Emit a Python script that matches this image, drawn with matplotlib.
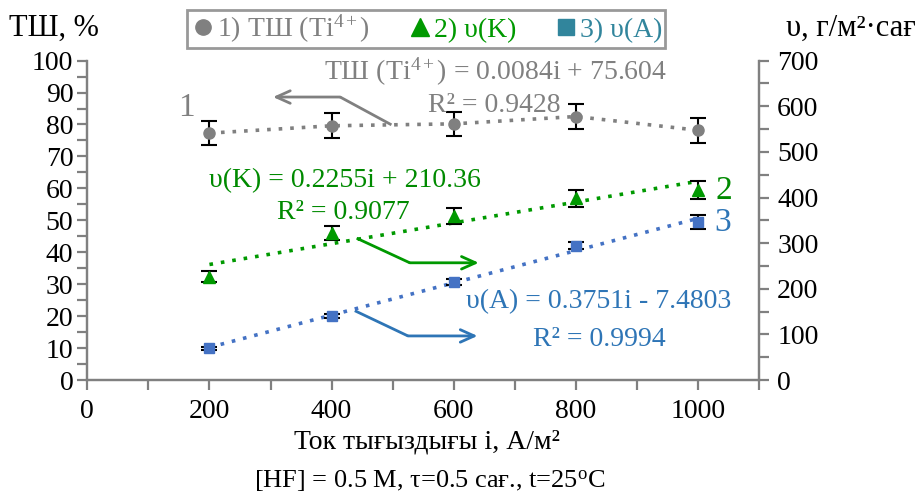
import numpy as np
import matplotlib
matplotlib.use("Agg")
import matplotlib.pyplot as plt
from matplotlib.ticker import MultipleLocator
from matplotlib.lines import Line2D

plt.rcParams['font.family'] = ['Liberation Serif', 'DejaVu Serif']
plt.rcParams['mathtext.fontset'] = 'custom'
plt.rcParams['mathtext.rm'] = 'Liberation Serif'
plt.rcParams['mathtext.it'] = 'Liberation Serif:italic'

# ================= ДАННЫЕ =================
ток_i = [200, 400, 600, 800, 1000]            # A/м²

тш = [77.3, 79.6, 80.2, 82.5, 78.2]           # %, левая ось
тш_err = [3.7, 3.9, 3.8, 4.0, 3.9]

v_k = [226, 322, 360, 398, 416]               # г/м²·сағ, правая ось
v_k_err = [12, 15, 17, 18, 20]

v_a = [69.5, 140, 215, 294.5, 345.6]
v_a_err = [3, 4, 6, 8, 15]

подписи_тренда = {
    'тш': ["ТШ (Ti$^{4+}$) = 0.0084i + 75.604", "R² = 0.9428"],
    'k': ["υ(K) = 0.2255i + 210.36", "R² = 0.9077"],
    'a': ["υ(A) = 0.3751i - 7.4803", "R² = 0.9994"],
}

# Цвета
СЕРЫЙ = '#808080'
ЗЕЛЕНЫЙ = '#009900'
ЗЕЛЕНЫЙ_ТЕКСТ = '#008a00'
СИНИЙ = '#4472C4'
СИНИЙ_ТЕКСТ = '#2E75B6'
БИРЮЗА = '#31859C'
# ==========================================

fig = plt.figure(figsize=(9.19, 5.01), dpi=100)
ax = fig.add_axes([0.095, 0.2415, 0.731, 0.6375])
ax2 = ax.twinx()

# --- оси ---
ax.set_xlim(0, 1100)
ax.set_ylim(0, 100)
ax2.set_ylim(0, 700)
ax.xaxis.set_major_locator(MultipleLocator(200))
ax.xaxis.set_minor_locator(MultipleLocator(100))
ax.yaxis.set_major_locator(MultipleLocator(10))
ax.yaxis.set_minor_locator(MultipleLocator(5))
ax2.yaxis.set_major_locator(MultipleLocator(100))
ax2.yaxis.set_minor_locator(MultipleLocator(50))
ax.set_xticks([0, 200, 400, 600, 800, 1000])

for a in (ax, ax2):
    for s in a.spines.values():
        s.set_color(СЕРЫЙ)
        s.set_linewidth(1.6)
    a.spines['top'].set_visible(False)
    a.tick_params(which='both', color=СЕРЫЙ, width=1.6, length=7, labelsize=20,
                  direction='out')
ax.tick_params(axis='y', pad=3)
ax.tick_params(axis='x', pad=7)
ax2.tick_params(axis='y', pad=6)

# --- линии тренда ---
x_tr = np.array([200, 1000])
kk = np.polyfit(ток_i, v_k, 1)
ka = np.polyfit(ток_i, v_a, 1)
ax.plot(ток_i, тш, linestyle=(0, (1, 2.2)), color=СЕРЫЙ, lw=2.6, zorder=2)
ax2.plot(x_tr, np.polyval(kk, x_tr), linestyle=(0, (1, 2.2)), color=ЗЕЛЕНЫЙ, lw=2.6, zorder=2)
ax2.plot(x_tr, np.polyval(ka, x_tr), linestyle=(0, (1, 2.2)), color=СИНИЙ, lw=2.6, zorder=2)

# --- точки с погрешностями ---
ax.errorbar(ток_i, тш, yerr=тш_err, fmt='o', color=СЕРЫЙ, ms=8, ecolor='black',
            elinewidth=1.5, capsize=6, capthick=1.5, zorder=3)
ax2.errorbar(ток_i, v_k, yerr=v_k_err, fmt='^', color=ЗЕЛЕНЫЙ, ms=9, ecolor='black',
             elinewidth=1.5, capsize=6, capthick=1.5, zorder=3)
ax2.errorbar(ток_i, v_a, yerr=v_a_err, fmt='s', color=СИНИЙ, ms=7, ecolor='black',
             elinewidth=1.5, capsize=6, capthick=1.5, zorder=3)

# --- уравнения ---
ax.text(668, 96.5, подписи_тренда['тш'][0], color=СЕРЫЙ, fontsize=20, ha='center', va='center')
ax.text(666, 85.8, подписи_тренда['тш'][1], color=СЕРЫЙ, fontsize=20, ha='center', va='center')
ax.text(422, 62.3, подписи_тренда['k'][0], color=ЗЕЛЕНЫЙ_ТЕКСТ, fontsize=20, ha='center', va='center')
ax.text(419, 52.6, подписи_тренда['k'][1], color=ЗЕЛЕНЫЙ_ТЕКСТ, fontsize=20, ha='center', va='center')
ax.text(838, 24.4, подписи_тренда['a'][0], color=СИНИЙ_ТЕКСТ, fontsize=20, ha='center', va='center')
ax.text(838, 12.8, подписи_тренда['a'][1], color=СИНИЙ_ТЕКСТ, fontsize=20, ha='center', va='center')

# --- номера кривых ---
ax.text(163, 85.2, "1", color=СЕРЫЙ, fontsize=24, ha='center', va='center')
ax.text(1042, 59.3, "2", color=ЗЕЛЕНЫЙ_ТЕКСТ, fontsize=24, ha='center', va='center')
ax.text(1040, 49.2, "3", color=СИНИЙ_ТЕКСТ, fontsize=24, ha='center', va='center')


# --- стрелки (ломаная + наконечник) ---
def стрелка(pts, color):
    xs, ys = zip(*pts)
    ax.plot(xs[:-1], ys[:-1], color=color, lw=2, solid_capstyle='butt', zorder=4)
    ax.annotate('', xy=pts[-1], xytext=pts[-2],
                arrowprops=dict(arrowstyle='->,head_length=1.0,head_width=0.45',
                                color=color, lw=2, shrinkA=0, shrinkB=0), zorder=4)


стрелка([(498, 79.9), (414, 88.6), (304, 88.6)], СЕРЫЙ)
стрелка([(441, 44.4), (528, 36.7), (641, 36.7)], ЗЕЛЕНЫЙ)
стрелка([(438, 21.7), (525, 13.8), (639, 13.8)], СИНИЙ_ТЕКСТ)

# --- подписи осей ---
fig.text(0.010, 0.944, "ТШ, %", fontsize=22, ha='left', va='center')
fig.text(0.997, 0.944, "υ, г/м²·сағ", fontsize=22, ha='right', va='center')
fig.text(0.465, 0.118, "Ток тығыздығы і, А/м²", fontsize=20, ha='center', va='center')
fig.text(0.468, 0.040, "[HF] = 0.5 M, τ=0.5 сағ., t=25$^{\\mathrm{o}}$C", fontsize=19,
         ha='center', va='center')

# --- легенда ---
handles = [
    Line2D([], [], marker='o', color=СЕРЫЙ, linestyle='none', ms=11),
    Line2D([], [], marker='^', color=ЗЕЛЕНЫЙ, linestyle='none', ms=13),
    Line2D([], [], marker='s', color=БИРЮЗА, linestyle='none', ms=11),
]
labels = ["1) ТШ (Ti$^{4+}$)", "2) υ(K)", "3) υ(A)"]
leg = fig.legend(handles, labels, loc='center', bbox_to_anchor=(0.4635, 0.942), ncol=3,
                 fontsize=20, frameon=True, fancybox=False, edgecolor=СЕРЫЙ,
                 handletextpad=0.0, columnspacing=1.3, borderpad=0.1, handlelength=1.0,
                 labelcolor=[СЕРЫЙ, ЗЕЛЕНЫЙ, БИРЮЗА])
leg.get_frame().set_linewidth(2)

fig.savefig("out.png", dpi=100)
